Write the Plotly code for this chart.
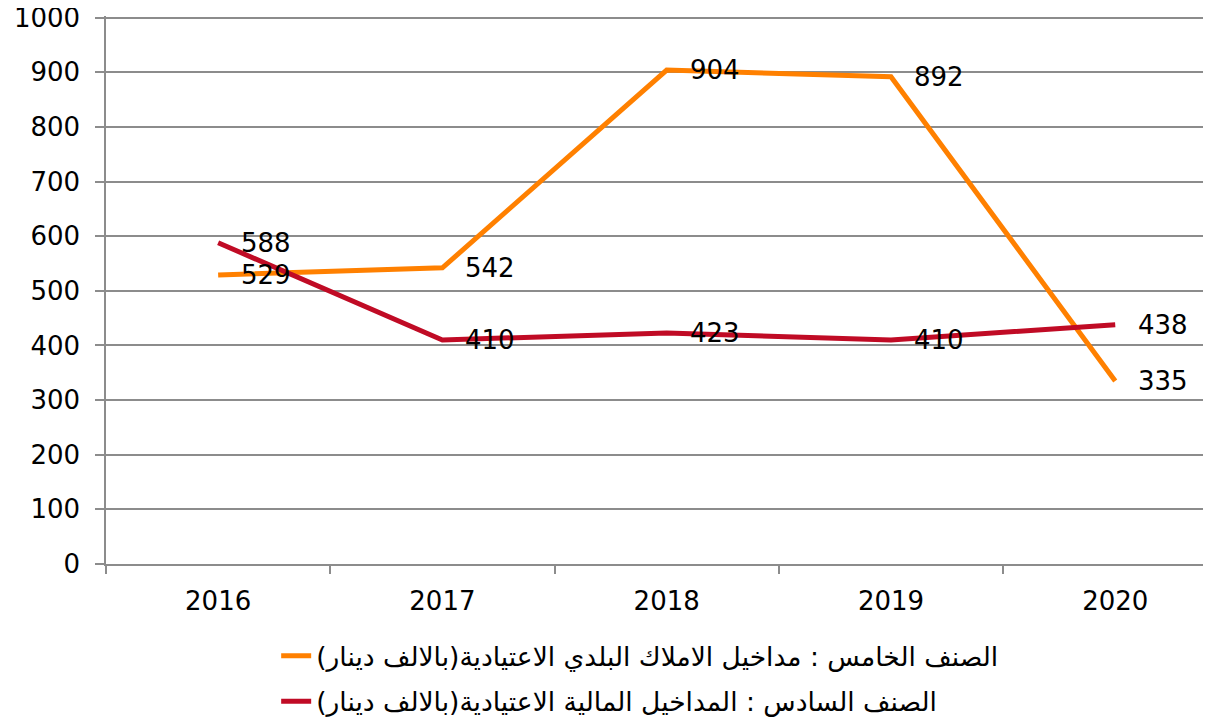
import plotly.graph_objects as go

years = ["2016", "2017", "2018", "2019", "2020"]
fifth = [529, 542, 904, 892, 335]
sixth = [588, 410, 423, 410, 438]
name_fifth = "الصنف الخامس : مداخيل الاملاك البلدي الاعتيادية(بالالف دينار)"
name_sixth = "الصنف السادس : المداخيل المالية الاعتيادية(بالالف دينار)"
y_ticks = [0, 100, 200, 300, 400, 500, 600, 700, 800, 900, 1000]

FONT = "DejaVu Sans"
ORANGE = "#FF8000"
RED = "#C00B25"
GRID = "#8c8c8c"

fig = go.Figure()
fig.add_trace(go.Scatter(x=years, y=fifth, mode="lines", name=name_fifth,
                         legendgroup="a",
                         line=dict(color=ORANGE, width=5)))
fig.add_trace(go.Scatter(x=years, y=sixth, mode="lines", name=name_sixth,
                         legendgroup="b",
                         line=dict(color=RED, width=5)))

for series in (fifth, sixth):
    for i, v in enumerate(series):
        fig.add_annotation(x=i, y=v, xref="x", yref="y", text=str(v),
                           showarrow=False, xanchor="left", yanchor="middle",
                           xshift=21,
                           font=dict(family=FONT, size=26, color="#000000"))

fig.update_layout(
    width=1211, height=720,
    margin=dict(l=98, r=8, t=8.4, b=164, autoexpand=False),
    paper_bgcolor="white", plot_bgcolor="white",
    font=dict(family=FONT, size=26, color="#000000"),
    showlegend=True,
    legend=dict(x=0.154, y=-0.124, xanchor="left", yanchor="top",
                orientation="v", font=dict(family=FONT, size=26.5),
                bgcolor="rgba(0,0,0,0)", tracegroupgap=8),
)
fig.update_xaxes(type="category", range=[-0.5, 4.427], tickson="boundaries",
                 ticks="outside", ticklen=8, tickcolor=GRID, tickwidth=1.5,
                 showline=True, linecolor=GRID, linewidth=1.5, automargin=False,
                 showgrid=False, ticklabelstandoff=13,
                 tickfont=dict(family=FONT, size=26))
fig.update_yaxes(range=[0, 1003], tickvals=y_ticks, ticks="outside", ticklen=9,
                 tickcolor=GRID, tickwidth=1.5, showline=True, linecolor=GRID,
                 linewidth=1.5, showgrid=True, gridcolor=GRID, gridwidth=1.5,
                 zeroline=False, ticklabelstandoff=10, automargin=False,
                 ticklabeloverflow="allow",
                 tickfont=dict(family=FONT, size=26))

fig.write_html("out.html")
